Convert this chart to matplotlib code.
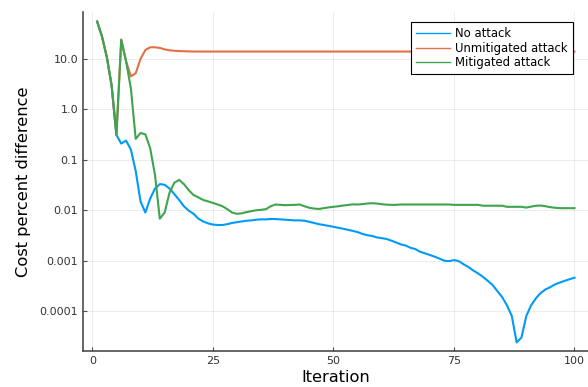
import matplotlib
matplotlib.use("Agg")
import matplotlib.pyplot as plt
from matplotlib.ticker import FixedLocator, FixedFormatter, NullLocator

# iterations 1..100
iterations = list(range(1, 101))

# cost percent difference (log scale)
no_attack = [
    55, 28, 11, 3.0, 0.31, 0.21, 0.24, 0.16, 0.06, 0.015,
    0.009, 0.017, 0.027, 0.033, 0.032, 0.027, 0.021, 0.016, 0.012, 0.0098,
    0.0085, 0.0068, 0.006, 0.0055, 0.0052, 0.0051, 0.0051, 0.0053, 0.0056, 0.0058,
    0.006, 0.0062, 0.0063, 0.0065, 0.0066, 0.0066, 0.0067, 0.0067, 0.0066, 0.0065,
    0.0064, 0.0063, 0.0063, 0.0062, 0.0059, 0.0056, 0.0053, 0.0051, 0.0049, 0.0047,
    0.0045, 0.0043, 0.0041, 0.0039, 0.0037, 0.0034, 0.0032, 0.0031, 0.0029, 0.0028,
    0.0027, 0.0025, 0.0023, 0.0021, 0.002, 0.0018, 0.0017, 0.0015, 0.0014, 0.0013,
    0.0012, 0.0011, 0.001, 0.00098, 0.00103, 0.00098, 0.00085, 0.00075, 0.00064, 0.00056,
    0.00048, 0.0004, 0.00033, 0.00025, 0.00019, 0.00013, 0.00008, 0.000024, 0.00003, 0.00008,
    0.00013, 0.00018, 0.00023, 0.00027, 0.0003, 0.00034, 0.00037, 0.0004, 0.00043, 0.00046,
]

unmitigated = [
    55, 28, 11, 3.0, 0.31, 24, 9, 4.5, 5.2, 10,
    15, 17, 17, 16.5, 15.5, 14.8, 14.5, 14.3, 14.2, 14.1,
] + [14.0] * 80

mitigated = [
    55, 28, 11, 3.0, 0.31, 24, 9, 2.6, 0.26, 0.34,
    0.32, 0.17, 0.05, 0.0068, 0.009, 0.022, 0.035, 0.04, 0.033, 0.025,
    0.02, 0.018, 0.016, 0.015, 0.014, 0.013, 0.012, 0.0105, 0.009, 0.0085,
    0.0087, 0.0092, 0.0096, 0.01, 0.0102, 0.0105, 0.012, 0.013, 0.0128, 0.0126,
    0.0127, 0.0128, 0.013, 0.012, 0.0112, 0.0108, 0.0106, 0.011, 0.0114, 0.0117,
    0.012, 0.0124, 0.0127, 0.0131, 0.013, 0.0132, 0.0136, 0.0138, 0.0136, 0.0132,
    0.0129, 0.0128, 0.0128, 0.013, 0.013, 0.013, 0.013, 0.013, 0.013, 0.013,
    0.013, 0.013, 0.013, 0.013, 0.0128, 0.0128, 0.0128, 0.0128, 0.0128, 0.0128,
    0.0123, 0.0123, 0.0123, 0.0123, 0.0123, 0.0117, 0.0117, 0.0117, 0.0117, 0.0113,
    0.0118, 0.0123, 0.0124, 0.012, 0.0115, 0.0112, 0.011, 0.011, 0.011, 0.011,
]

labels = ["No attack", "Unmitigated attack", "Mitigated attack"]
colors = ["#009AFA", "#E36F47", "#3EA44E"]

ytick_vals = [0.0001, 0.001, 0.01, 0.1, 1.0, 10.0]
ytick_text = ["0.0001", "0.001", "0.01", "0.1", "1.0", "10.0"]
xtick_vals = [0, 25, 50, 75, 100]

fig = plt.figure(figsize=(5.88, 3.87), dpi=100)
ax = fig.add_axes([83 / 588, 1 - 351 / 387, 505 / 588, 339 / 387])

for series, lab, col in zip([no_attack, unmitigated, mitigated], labels, colors):
    ax.plot(iterations, series, color=col, lw=1.5, label=lab)

ax.set_yscale("log")
ax.set_xlim(-1.93, 102.8)
ax.set_ylim(10 ** -4.79, 10 ** 1.93)

ax.yaxis.set_major_locator(FixedLocator(ytick_vals))
ax.yaxis.set_major_formatter(FixedFormatter(ytick_text))
ax.yaxis.set_minor_locator(NullLocator())
ax.set_xticks(xtick_vals)
ax.set_xticklabels([str(v) for v in xtick_vals])

# Plots.jl-ish look
ax.grid(True, color="black", alpha=0.07, lw=0.7)
for s in ["top", "right"]:
    ax.spines[s].set_visible(False)
for s in ["left", "bottom"]:
    ax.spines[s].set_color("#4d4d4d")
    ax.spines[s].set_linewidth(1.2)
ax.tick_params(direction="in", length=3, width=0.8, color="#4d4d4d",
               labelsize=8, labelcolor="#333333")

ax.set_xlabel("Iteration", fontsize=11.7, labelpad=3)
ax.set_ylabel("Cost percent difference", fontsize=11.7, labelpad=6)

leg = ax.legend(loc="upper right", bbox_to_anchor=(0.97, 0.97), borderaxespad=0,
                fontsize=8.4, fancybox=False, framealpha=1, handlelength=2.9,
                handletextpad=0.45, labelspacing=0.12, borderpad=0.45)
leg.get_frame().set_edgecolor("black")
leg.get_frame().set_linewidth(0.8)
for h in leg.get_lines():
    h.set_linewidth(1.0)

fig.savefig("out.png", dpi=100)
